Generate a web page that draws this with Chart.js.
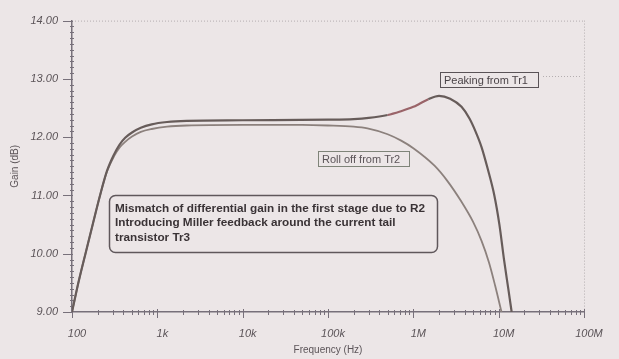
<!DOCTYPE html>
<html>
<head>
<meta charset="utf-8">
<script src="https://cdn.jsdelivr.net/npm/chart.js@4/dist/chart.umd.min.js"></script>
<style>
  html, body { margin: 0; padding: 0; background: #ece6e7; }
  #wrap { width: 619px; height: 359px; }
</style>
</head>
<body>
<div id="wrap"><canvas id="c" width="619" height="359"></canvas></div>
<script>
// ---- data ----
const xTickValues = [100, 1e3, 1e4, 1e5, 1e6, 1e7, 1e8];
const xTickLabels = ['100', '1k', '10k', '100k', '1M', '10M', '100M'];
const yTickValues = [9, 10, 11, 12, 13, 14];

const peakFreq = [100, 120, 146, 176, 213, 257, 310, 360, 420, 505, 640, 860, 1300, 2200, 10000, 100000, 200000, 300000, 500000, 700000, 1000000, 1170000, 1500000, 2000000, 2700000, 3670000, 4550000, 5350000, 6300000, 7400000, 8900000, 10200000, 11600000, 12960000, 14200000];
const peakGain = [9.0, 9.53, 10.04, 10.52, 11.0, 11.42, 11.7, 11.87, 11.99, 12.08, 12.16, 12.22, 12.26, 12.28, 12.29, 12.3, 12.31, 12.33, 12.38, 12.44, 12.52, 12.57, 12.65, 12.71, 12.66, 12.52, 12.32, 12.1, 11.83, 11.47, 11.0, 10.5, 9.88, 9.4, 9.0];

const rollFreq = [100, 120, 146, 176, 213, 257, 310, 360, 420, 505, 640, 860, 1300, 2200, 10000, 50000, 100000, 200000, 290000, 500000, 720000, 1000000, 1770000, 2500000, 3670000, 5000000, 6300000, 7700000, 9100000, 10800000];
const rollGain = [9.0, 9.53, 10.04, 10.52, 11.0, 11.41, 11.67, 11.82, 11.92, 12.01, 12.09, 12.14, 12.18, 12.2, 12.21, 12.21, 12.2, 12.18, 12.15, 12.05, 11.94, 11.81, 11.51, 11.25, 10.89, 10.55, 10.22, 9.85, 9.45, 9.0];

const seriesNames = ['Peaking from Tr1', 'Roll off from Tr2'];
const xTitle = 'Frequency (Hz)';
const yTitle = 'Gain (dB)';
const noteLines = [
  'Mismatch of differential gain in the first stage due to R2',
  'Introducing Miller feedback around the current tail',
  'transistor Tr3'
];

const toPoints = (xs, ys) => xs.map((x, i) => ({ x: x, y: ys[i] }));

const BG = '#ece6e7';
const AXIS = '#77707a';
const TXT = '#5b5458';
const FONT = '"Liberation Sans", Arial, sans-serif';

const decorPlugin = {
  id: 'decor',
  beforeDraw(chart) {
    const ctx = chart.ctx;
    ctx.save();
    ctx.fillStyle = BG;
    ctx.fillRect(0, 0, chart.width, chart.height);
    ctx.restore();
  },
  beforeDatasetsDraw(chart) {
    const ctx = chart.ctx;
    const a = chart.chartArea;
    const xs = chart.scales.x, ys = chart.scales.y;
    ctx.save();
    ctx.strokeStyle = '#b4aeb0';
    ctx.lineWidth = 1;
    ctx.setLineDash([1, 2]);
    ctx.beginPath();
    ctx.moveTo(a.left, a.top + 0.5); ctx.lineTo(a.right, a.top + 0.5);
    ctx.moveTo(a.right + 0.5, a.top); ctx.lineTo(a.right + 0.5, a.bottom);
    ctx.stroke();
    ctx.setLineDash([]);
    ctx.strokeStyle = AXIS;
    ctx.lineWidth = 1;
    ctx.beginPath();
    for (let k = 0; k <= 50; k++) {
      const v = 9 + k / 10;
      const y = Math.round(ys.getPixelForValue(v)) + 0.5;
      if (k % 10 === 0) { ctx.moveTo(a.left - 9, y); ctx.lineTo(a.left + 1, y); }
      else { ctx.moveTo(a.left - 2, y); ctx.lineTo(a.left + 2, y); }
    }
    for (let d = 100; d <= 1e8; d *= 10) {
      for (let m = 1; m <= 9; m++) {
        const f = d * m;
        if (f > 1e8) break;
        const x = Math.round(xs.getPixelForValue(f)) + 0.5;
        if (m === 1) { ctx.moveTo(x, a.bottom - 3); ctx.lineTo(x, a.bottom + 6); }
        else { ctx.moveTo(x, a.bottom - 2); ctx.lineTo(x, a.bottom + 3); }
      }
    }
    ctx.stroke();
    ctx.restore();
  },
  afterDatasetsDraw(chart) {
    const ctx = chart.ctx;
    ctx.save();
    ctx.font = '11px ' + FONT;
    ctx.textBaseline = 'middle';
    ctx.fillStyle = '#4a4347';
    ctx.strokeStyle = '#5a5357';
    ctx.lineWidth = 1;
    ctx.strokeRect(440.5, 72.5, 98, 15);
    ctx.fillText(seriesNames[0], 444, 80.5);
    ctx.strokeStyle = '#b4aeb0';
    ctx.setLineDash([1, 2]);
    ctx.beginPath(); ctx.moveTo(543, 76.5); ctx.lineTo(582, 76.5); ctx.stroke();
    ctx.setLineDash([]);
    ctx.strokeStyle = '#7f8479';
    ctx.fillStyle = '#5b5458';
    ctx.strokeRect(318.5, 151.5, 91, 15);
    ctx.fillText(seriesNames[1], 322, 159.5);
    const x0 = 109.5, y0 = 195.5, w = 328, h = 57, r = 6;
    ctx.strokeStyle = '#5f575b';
    ctx.lineWidth = 1.5;
    ctx.beginPath();
    ctx.moveTo(x0 + r, y0);
    ctx.lineTo(x0 + w - r, y0); ctx.arcTo(x0 + w, y0, x0 + w, y0 + r, r);
    ctx.lineTo(x0 + w, y0 + h - r); ctx.arcTo(x0 + w, y0 + h, x0 + w - r, y0 + h, r);
    ctx.lineTo(x0 + r, y0 + h); ctx.arcTo(x0, y0 + h, x0, y0 + h - r, r);
    ctx.lineTo(x0, y0 + r); ctx.arcTo(x0, y0, x0 + r, y0, r);
    ctx.stroke();
    ctx.fillStyle = '#3a3336';
    ctx.font = 'bold 10.5px ' + FONT;
    const mw = ctx.measureText(noteLines[0]).width;
    const sx = 310 / mw;
    noteLines.forEach((t, i) => {
      ctx.save();
      ctx.translate(115, 209 + i * 14.5);
      ctx.scale(sx, 1);
      ctx.fillText(t, 0, 0);
      ctx.restore();
    });
    ctx.restore();
  }
};

new Chart(document.getElementById('c'), {
  type: 'line',
  data: {
    datasets: [
      {
        label: seriesNames[0],
        data: toPoints(peakFreq, peakGain),
        borderColor: '#675c5a',
        borderWidth: 2.2,
        pointRadius: 0,
        cubicInterpolationMode: 'monotone',
        segment: {
          borderColor: (c) => (c.p0.parsed.x >= 450000 && c.p0.parsed.x < 1500000) ? '#9a6469' : undefined
        },
        fill: false
      },
      {
        label: seriesNames[1],
        data: toPoints(rollFreq, rollGain),
        borderColor: '#8c817d',
        borderWidth: 1.8,
        pointRadius: 0,
        cubicInterpolationMode: 'monotone',
        fill: false
      }
    ]
  },
  options: {
    responsive: false,
    devicePixelRatio: 1,
    animation: false,
    layout: { padding: { left: 0, top: 17, right: 35, bottom: 0 } },
    plugins: { legend: { display: false }, tooltip: { enabled: false } },
    scales: {
      x: {
        type: 'logarithmic',
        min: 100,
        max: 1e8,
        afterBuildTicks(scale) { scale.ticks = xTickValues.map(v => ({ value: v })); },
        afterFit(scale) { scale.height = 359 - 312; },
        grid: { display: false, drawTicks: false },
        border: { display: true, color: AXIS, width: 1.5 },
        ticks: {
          autoSkip: false,
          maxRotation: 0,
          padding: 15,
          labelOffset: 5,
          color: TXT,
          font: { family: FONT, size: 11, style: 'italic' },
          callback(value) {
            const i = xTickValues.indexOf(value);
            return i >= 0 ? xTickLabels[i] : '';
          }
        },
        title: {
          display: true,
          text: xTitle,
          color: TXT,
          font: { family: FONT, size: 10 },
          padding: { top: 0, bottom: 3 }
        }
      },
      y: {
        type: 'linear',
        min: 9,
        max: 14,
        afterBuildTicks(scale) { scale.ticks = yTickValues.map(v => ({ value: v })); },
        afterFit(scale) { scale.width = 72; },
        grid: { display: false, drawTicks: false },
        border: { display: true, color: AXIS, width: 1.5 },
        ticks: {
          padding: 14,
          color: TXT,
          font: { family: FONT, size: 11, style: 'italic' },
          callback(value) { return Number(value).toFixed(2); }
        },
        title: {
          display: true,
          text: yTitle,
          color: TXT,
          font: { family: FONT, size: 10 },
          padding: { top: 9, bottom: 0 }
        }
      }
    }
  },
  plugins: [decorPlugin]
});
</script>
</body>
</html>
